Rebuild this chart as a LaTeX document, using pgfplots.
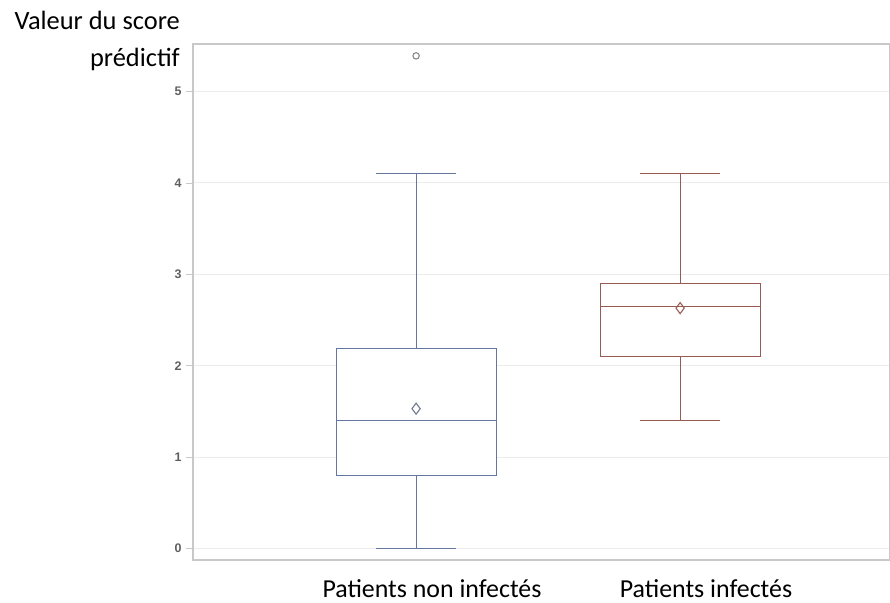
\documentclass[border=0pt]{standalone}
\usepackage{pgfplots}
\pgfplotsset{compat=1.18}
\usepgfplotslibrary{statistics}
\usepackage{fontspec}
\setmainfont{Carlito}
\newfontfamily\tickfont{Liberation Sans}
\definecolor{nonc}{RGB}{100,118,160}
\definecolor{infc}{RGB}{150,92,84}
\definecolor{frame}{RGB}{200,200,200}
\definecolor{gridc}{RGB}{236,236,236}
\definecolor{tickc}{RGB}{95,95,95}
\begin{document}
\begin{tikzpicture}
\begin{axis}[
    scale only axis,
    width=697bp, height=516bp,
    xmin=0.155, xmax=2.795,
    ymin=-0.126, ymax=5.52,
    ytick={0,1,2,3,4,5},
    xtick=\empty,
    ytick style={draw=frame, line width=0.8bp},
    tick align=outside,
    major tick length=7bp,
    axis line style={draw=frame, line width=1.2bp},
    ymajorgrids=true,
    grid style={draw=gridc, line width=1bp},
    /pgf/number format/assume math mode=true,
    yticklabel style={font=\tickfont\bfseries\fontsize{12.5}{14}\selectfont, text=tickc, xshift=-1bp},
    boxplot/draw direction=y,
    boxplot/box extend=0.606,
    boxplot/whisker extend=0.303,
    clip=false,
]
\addplot[boxplot prepared={draw position=1, lower whisker=0, lower quartile=0.8,
    median=1.4, upper quartile=2.19, upper whisker=4.1},
    draw=nonc, fill=white, line width=0.8bp,
    boxplot/every box/.style={draw=nonc, fill=white},
    boxplot/every whisker/.style={draw=nonc},
    boxplot/every median/.style={draw=nonc}]
    coordinates {};
\addplot[boxplot prepared={draw position=2, lower whisker=1.4, lower quartile=2.1,
    median=2.65, upper quartile=2.9, upper whisker=4.1},
    draw=infc, fill=white, line width=0.8bp,
    boxplot/every box/.style={draw=infc, fill=white},
    boxplot/every whisker/.style={draw=infc},
    boxplot/every median/.style={draw=infc}]
    coordinates {};
% means
\addplot[only marks, mark=diamond, mark size=5.5bp, draw=nonc!60!gray, line width=1.1bp]
    coordinates {(1,1.53)};
\addplot[only marks, mark=diamond, mark size=5.5bp, draw=infc, line width=1.1bp]
    coordinates {(2,2.63)};
% outlier
\addplot[only marks, mark=o, mark size=3.2bp, draw=gray, line width=1bp]
    coordinates {(1,5.39)};
\end{axis}
\node[anchor=base east, font=\fontsize{26.5}{30}\selectfont, inner sep=0pt]
    at (-13bp,530bp) {Valeur du score};
\node[anchor=base east, font=\fontsize{26.5}{30}\selectfont, inner sep=0pt]
    at (-13bp,493bp) {prédictif};
\node[anchor=base, font=\fontsize{26}{30}\selectfont, inner sep=0pt]
    at (239bp,-37bp) {Patients non infectés};
\node[anchor=base, font=\fontsize{26}{30}\selectfont, inner sep=0pt]
    at (513bp,-37bp) {Patients infectés};
\pgfresetboundingbox
\path (-193bp,-43bp) rectangle (697bp,560bp);
\end{tikzpicture}
\end{document}
